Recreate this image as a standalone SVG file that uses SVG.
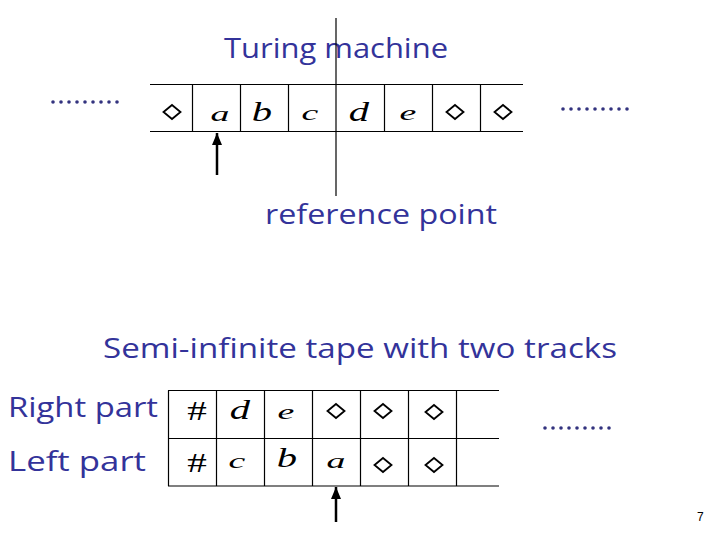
<svg xmlns="http://www.w3.org/2000/svg" width="720" height="540" viewBox="0 0 720 540">
<style>
.lbl{font-family:"Comic Sans MS","Open Sans","DejaVu Sans",sans-serif;font-weight:500;fill:#33339a;font-size:28px}
.sym{font-family:"Liberation Serif","Times New Roman",serif;font-style:italic;fill:#000}
.hash{font-family:"Liberation Serif","Times New Roman",serif;fill:#000}
.ln{stroke:#000;stroke-width:1.2;fill:none}
.arr{stroke:#000;stroke-width:2.5;fill:none}
.dm{stroke:#000;stroke-width:1.8;fill:#fff}
.dot{fill:#33337f}
</style>
<defs>
<marker id="ah" viewBox="0 0 12 10" refX="12" refY="5" markerWidth="12" markerHeight="10" markerUnits="userSpaceOnUse" orient="auto">
<path d="M0,0 L12,5 L0,10 Z" fill="#000"/>
</marker>
<path id="dia" d="M0,-7 L8.5,0 L0,7 L-8.5,0 Z" class="dm"/>
<g id="dots9">
<circle cx="0" cy="0" r="1.8"/><circle cx="8" cy="0" r="1.8"/><circle cx="16" cy="0" r="1.8"/><circle cx="24" cy="0" r="1.8"/><circle cx="32" cy="0" r="1.8"/><circle cx="40" cy="0" r="1.8"/><circle cx="48" cy="0" r="1.8"/><circle cx="56" cy="0" r="1.8"/><circle cx="64" cy="0" r="1.8"/>
</g>
</defs>
<rect width="720" height="540" fill="#fff"/>

<g id="title"><text class="lbl" x="224" y="58" textLength="224" lengthAdjust="spacingAndGlyphs">Turing machine</text></g>
<g id="dots-left" class="dot"><use href="#dots9" x="53" y="102"/></g>
<g id="dots-right" class="dot"><use href="#dots9" x="563" y="109"/></g>

<g id="tape1">
<line class="ln" x1="150" y1="84.5" x2="523" y2="84.5"/>
<line class="ln" x1="150" y1="131.5" x2="523" y2="131.5"/>
<line class="ln" x1="192.5" y1="84.5" x2="192.5" y2="131.5"/>
<line class="ln" x1="240.5" y1="84.5" x2="240.5" y2="131.5"/>
<line class="ln" x1="288.5" y1="84.5" x2="288.5" y2="131.5"/>
<line class="ln" x1="384.5" y1="84.5" x2="384.5" y2="131.5"/>
<line class="ln" x1="432.5" y1="84.5" x2="432.5" y2="131.5"/>
<line class="ln" x1="480.5" y1="84.5" x2="480.5" y2="131.5"/>
<use href="#dia" x="172" y="112"/>
<text class="sym" font-size="21" transform="translate(220,121) scale(1.8,1)" text-anchor="middle">a</text>
<text class="sym" font-size="28" transform="translate(262,121) scale(1.45,1)" text-anchor="middle">b</text>
<text class="sym" font-size="21" transform="translate(310,120) scale(1.8,1)" text-anchor="middle">c</text>
<text class="sym" font-size="28" transform="translate(359,121) scale(1.45,1)" text-anchor="middle">d</text>
<text class="sym" font-size="21" transform="translate(408,120) scale(1.8,1)" text-anchor="middle">e</text>
<use href="#dia" x="455" y="112"/>
<use href="#dia" x="503" y="112"/>
</g>

<g id="refline"><line class="ln" x1="336" y1="18" x2="336" y2="196"/></g>
<g id="reflabel"><text class="lbl" x="265" y="224" textLength="232" lengthAdjust="spacingAndGlyphs">reference point</text></g>

<g id="subtitle"><text class="lbl" x="103" y="358" textLength="514" lengthAdjust="spacingAndGlyphs">Semi-infinite tape with two tracks</text></g>
<g id="right-label"><text class="lbl" x="8" y="417" textLength="150" lengthAdjust="spacingAndGlyphs">Right part</text></g>
<g id="left-label"><text class="lbl" x="8" y="471" textLength="138" lengthAdjust="spacingAndGlyphs">Left part</text></g>

<g id="tape2">
<line class="ln" x1="168" y1="390.5" x2="499" y2="390.5"/>
<line class="ln" x1="168" y1="438.5" x2="499" y2="438.5"/>
<line class="ln" x1="168" y1="486" x2="499" y2="486"/>
<line class="ln" x1="168.5" y1="390.5" x2="168.5" y2="486"/>
<line class="ln" x1="216.5" y1="390.5" x2="216.5" y2="486"/>
<line class="ln" x1="264.5" y1="390.5" x2="264.5" y2="486"/>
<line class="ln" x1="312.5" y1="390.5" x2="312.5" y2="486"/>
<line class="ln" x1="360.5" y1="390.5" x2="360.5" y2="486"/>
<line class="ln" x1="408.5" y1="390.5" x2="408.5" y2="486"/>
<line class="ln" x1="456.5" y1="390.5" x2="456.5" y2="486"/>
<text class="hash" font-size="27" transform="translate(197,420) scale(1.45,1)" text-anchor="middle">#</text>
<text class="sym" font-size="28" transform="translate(240,419) scale(1.45,1)" text-anchor="middle">d</text>
<text class="sym" font-size="21" transform="translate(286,419) scale(1.8,1)" text-anchor="middle">e</text>
<use href="#dia" x="336" y="411"/>
<use href="#dia" x="383" y="411"/>
<use href="#dia" x="434" y="412"/>
<text class="hash" font-size="27" transform="translate(197,472) scale(1.45,1)" text-anchor="middle">#</text>
<text class="sym" font-size="21" transform="translate(237,468) scale(1.8,1)" text-anchor="middle">c</text>
<text class="sym" font-size="28" transform="translate(287,467) scale(1.45,1)" text-anchor="middle">b</text>
<text class="sym" font-size="21" transform="translate(336,468) scale(1.8,1)" text-anchor="middle">a</text>
<use href="#dia" x="383" y="465"/>
<use href="#dia" x="434" y="465"/>
</g>
<g id="dots-bottom" class="dot"><use href="#dots9" x="545" y="428"/></g>

<g id="connectors">
<line class="arr" x1="217" y1="175" x2="217" y2="133" marker-end="url(#ah)"/>
<line class="arr" x1="336" y1="522" x2="336" y2="487" marker-end="url(#ah)"/>
</g>

<g id="page"><text x="697" y="521" font-family="Liberation Sans, sans-serif" font-size="12" fill="#000">7</text></g>
</svg>
